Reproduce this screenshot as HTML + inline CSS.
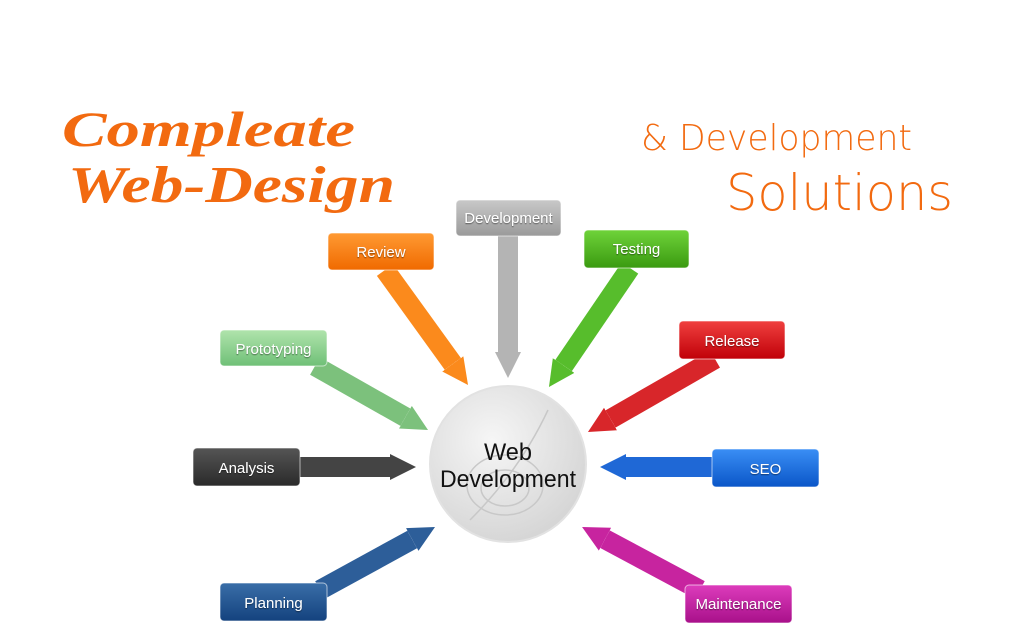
<!DOCTYPE html>
<html><head><meta charset="utf-8"><style>
html,body{margin:0;padding:0;background:#fff;width:1024px;height:626px;overflow:hidden}
svg{display:block}
.l{font-family:"Liberation Sans",Arial,sans-serif;font-size:15px;fill:#fff;text-anchor:middle}
</style></head><body>
<svg width="1024" height="626" viewBox="0 0 1024 626" xmlns="http://www.w3.org/2000/svg">
<defs>
<filter id="ts"><feDropShadow dx="0" dy="1" stdDeviation="0.6" flood-color="#000" flood-opacity="0.5"/></filter>
<radialGradient id="cg" cx="0.4" cy="0.35" r="0.7"><stop offset="0" stop-color="#f6f6f6"/><stop offset="1" stop-color="#d4d4d4"/></radialGradient>
<marker id="m1" viewBox="0 0 10 10" refX="0" refY="5" markerWidth="1.3" markerHeight="1.8" orient="auto"><path d="M0,0L10,5L0,10z" fill="#b4b4b4"/></marker>
<marker id="m2" viewBox="0 0 10 10" refX="0" refY="5" markerWidth="1.3" markerHeight="1.8" orient="auto"><path d="M0,0L10,5L0,10z" fill="#fb8a1c"/></marker>
<marker id="m3" viewBox="0 0 10 10" refX="0" refY="5" markerWidth="1.3" markerHeight="1.8" orient="auto"><path d="M0,0L10,5L0,10z" fill="#57bd2c"/></marker>
<marker id="m4" viewBox="0 0 10 10" refX="0" refY="5" markerWidth="1.3" markerHeight="1.8" orient="auto"><path d="M0,0L10,5L0,10z" fill="#7cc17c"/></marker>
<marker id="m5" viewBox="0 0 10 10" refX="0" refY="5" markerWidth="1.3" markerHeight="1.8" orient="auto"><path d="M0,0L10,5L0,10z" fill="#d8262a"/></marker>
<marker id="m6" viewBox="0 0 10 10" refX="0" refY="5" markerWidth="1.3" markerHeight="1.8" orient="auto"><path d="M0,0L10,5L0,10z" fill="#444"/></marker>
<marker id="m7" viewBox="0 0 10 10" refX="0" refY="5" markerWidth="1.3" markerHeight="1.8" orient="auto"><path d="M0,0L10,5L0,10z" fill="#1f68d6"/></marker>
<marker id="m8" viewBox="0 0 10 10" refX="0" refY="5" markerWidth="1.3" markerHeight="1.8" orient="auto"><path d="M0,0L10,5L0,10z" fill="#2d5e99"/></marker>
<marker id="m9" viewBox="0 0 10 10" refX="0" refY="5" markerWidth="1.3" markerHeight="1.8" orient="auto"><path d="M0,0L10,5L0,10z" fill="#c7249f"/></marker>
<linearGradient id="g1" x1="0" y1="0" x2="0" y2="1"><stop offset="0" stop-color="#c8c8c8"/><stop offset="1" stop-color="#9a9a9a"/></linearGradient>
<linearGradient id="g2" x1="0" y1="0" x2="0" y2="1"><stop offset="0" stop-color="#ff9a33"/><stop offset="1" stop-color="#f06a00"/></linearGradient>
<linearGradient id="g3" x1="0" y1="0" x2="0" y2="1"><stop offset="0" stop-color="#6fd33a"/><stop offset="1" stop-color="#3a9a10"/></linearGradient>
<linearGradient id="g4" x1="0" y1="0" x2="0" y2="1"><stop offset="0" stop-color="#b0e4ac"/><stop offset="1" stop-color="#6fc077"/></linearGradient>
<linearGradient id="g5" x1="0" y1="0" x2="0" y2="1"><stop offset="0" stop-color="#f0403f"/><stop offset="1" stop-color="#c00008"/></linearGradient>
<linearGradient id="g6" x1="0" y1="0" x2="0" y2="1"><stop offset="0" stop-color="#555"/><stop offset="1" stop-color="#2a2a2a"/></linearGradient>
<linearGradient id="g7" x1="0" y1="0" x2="0" y2="1"><stop offset="0" stop-color="#3a8ef5"/><stop offset="1" stop-color="#0a56c8"/></linearGradient>
<linearGradient id="g8" x1="0" y1="0" x2="0" y2="1"><stop offset="0" stop-color="#3a6ea8"/><stop offset="1" stop-color="#14427e"/></linearGradient>
<linearGradient id="g9" x1="0" y1="0" x2="0" y2="1"><stop offset="0" stop-color="#dd3cbc"/><stop offset="1" stop-color="#a8108a"/></linearGradient>
</defs>

<text x="62" y="146" font-family="'Liberation Serif',serif" font-style="italic" font-weight="bold" font-size="50" fill="#f26a10" textLength="293" lengthAdjust="spacingAndGlyphs">Compleate</text>
<text x="68" y="202" font-family="'Liberation Serif',serif" font-style="italic" font-weight="bold" font-size="52" fill="#f26a10" textLength="327" lengthAdjust="spacingAndGlyphs">Web-Design</text>
<text x="641" y="150" font-family="'DejaVu Sans',sans-serif" font-weight="200" font-size="36" fill="#f26a10" textLength="271" lengthAdjust="spacingAndGlyphs">&amp; Development</text>
<text x="726" y="210" font-family="'DejaVu Sans',sans-serif" font-weight="200" font-size="50" fill="#f26a10" textLength="227" lengthAdjust="spacingAndGlyphs">Solutions</text>

<g stroke-width="20" fill="none">
<line x1="508" y1="236" x2="508" y2="352" stroke="#b4b4b4" marker-end="url(#m1)"/>
<line x1="385" y1="270" x2="452.8" y2="363.9" stroke="#fb8a1c" marker-end="url(#m2)"/>
<line x1="630" y1="268" x2="563.6" y2="365.5" stroke="#57bd2c" marker-end="url(#m3)"/>
<line x1="315" y1="366" x2="405.4" y2="417.2" stroke="#7cc17c" marker-end="url(#m4)"/>
<line x1="715" y1="359" x2="610.5" y2="419" stroke="#d8262a" marker-end="url(#m5)"/>
<line x1="300" y1="467" x2="390" y2="467" stroke="#444" marker-end="url(#m6)"/>
<line x1="712" y1="467" x2="626" y2="467" stroke="#1f68d6" marker-end="url(#m7)"/>
<line x1="320" y1="590" x2="412.2" y2="539.5" stroke="#2d5e99" marker-end="url(#m8)"/>
<line x1="700" y1="590" x2="605" y2="539.2" stroke="#c7249f" marker-end="url(#m9)"/>
</g>

<circle cx="508" cy="464" r="78" fill="url(#cg)" stroke="#e2e2e2" stroke-width="2"/>
<g fill="none" stroke="#c8c8c8" stroke-width="1.5">
<ellipse cx="505" cy="485" rx="38" ry="30"/><ellipse cx="505" cy="488" rx="24" ry="18"/>
<path d="M470 520 Q520 470 548 410"/>
</g>
<text x="508" y="460" font-family="'Liberation Sans',sans-serif" font-size="24" fill="#111" text-anchor="middle" textLength="48" lengthAdjust="spacingAndGlyphs">Web</text>
<text x="508" y="487" font-family="'Liberation Sans',sans-serif" font-size="24" fill="#111" text-anchor="middle" textLength="136" lengthAdjust="spacingAndGlyphs">Development</text>

<g stroke="#fff" stroke-width="1" stroke-opacity="0.6">
<rect x="456" y="200" width="105" height="36" rx="4" fill="url(#g1)"/>
<rect x="328" y="233" width="106" height="37" rx="4" fill="url(#g2)"/>
<rect x="584" y="230" width="105" height="38" rx="4" fill="url(#g3)"/>
<rect x="220" y="330" width="107" height="36" rx="4" fill="url(#g4)"/>
<rect x="679" y="321" width="106" height="38" rx="4" fill="url(#g5)"/>
<rect x="193" y="448" width="107" height="38" rx="4" fill="url(#g6)"/>
<rect x="712" y="449" width="107" height="38" rx="4" fill="url(#g7)"/>
<rect x="220" y="583" width="107" height="38" rx="4" fill="url(#g8)"/>
<rect x="685" y="585" width="107" height="38" rx="4" fill="url(#g9)"/>
</g>
<g filter="url(#ts)">
<text class="l" x="508.5" y="223">Development</text>
<text class="l" x="381" y="257">Review</text>
<text class="l" x="636.5" y="254">Testing</text>
<text class="l" x="273.5" y="354">Prototyping</text>
<text class="l" x="732" y="346">Release</text>
<text class="l" x="246.5" y="473">Analysis</text>
<text class="l" x="765.5" y="474">SEO</text>
<text class="l" x="273.5" y="608">Planning</text>
<text class="l" x="738.5" y="609">Maintenance</text>
</g>
</svg>
</body></html>
